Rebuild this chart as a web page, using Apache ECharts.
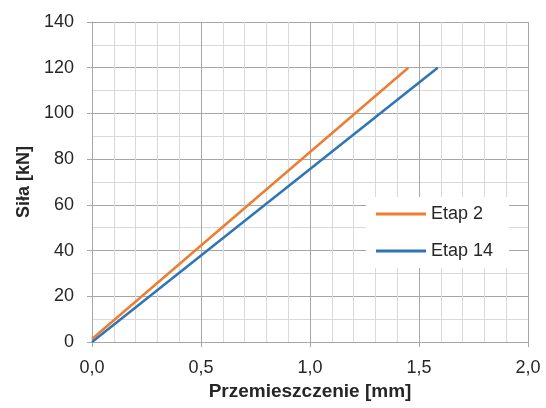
<!DOCTYPE html>
<html><head><meta charset="utf-8">
<script src="https://cdn.jsdelivr.net/npm/echarts@6/dist/echarts.min.js"></script>
<style>html,body{margin:0;padding:0;background:#fff}#c{width:546px;height:408px}</style>
</head><body><div id="c"></div>
<script>
const seriesNames = ["Etap 2", "Etap 14"];
const etap2X = [0, 1.451];
const etap2Y = [1.3, 120];
const etap14X = [0, 1.586];
const etap14Y = [0, 120];
const xTicks = [0, 0.5, 1.0, 1.5, 2.0];
const yTicks = [0, 20, 40, 60, 80, 100, 120, 140];

const toPairs = (xs, ys) => xs.map((x, i) => [x, ys[i]]);
const font = 'Liberation Sans, Arial, sans-serif';
const txt = '#262626';
const chart = echarts.init(document.getElementById('c'));
chart.setOption({
  animation: false,
  grid: {left: 92, right: 18, top: 22, bottom: 66, containLabel: false},
  legend: {
    orient: 'vertical', left: 366, top: 197,
    backgroundColor: '#fff', padding: [8, 16, 8, 10],
    itemWidth: 50, itemHeight: 3, itemGap: 19,
    icon: 'rect',
    textStyle: {fontFamily: font, fontSize: 18, color: txt},
    data: seriesNames
  },
  xAxis: {
    type: 'value', min: 0, max: 2, interval: 0.5,
    name: 'Przemieszczenie [mm]', nameLocation: 'middle', nameGap: 38,
    nameTextStyle: {fontFamily: font, fontSize: 19, fontWeight: 'bold', color: txt},
    axisLine: {show: true, lineStyle: {color: '#a6a6a6', width: 1}},
    axisTick: {show: true, length: 5, lineStyle: {color: '#a6a6a6'}},
    axisLabel: {fontFamily: font, fontSize: 18, color: txt, margin: 17,
      formatter: v => v.toFixed(1).replace('.', ',')},
    splitLine: {show: true, lineStyle: {color: '#a6a6a6', width: 1}},
    minorTick: {show: false, splitNumber: 5},
    minorSplitLine: {show: true, lineStyle: {color: '#d9d9d9', width: 1}}
  },
  yAxis: {
    type: 'value', min: 0, max: 140, interval: 20,
    name: 'Siła [kN]', nameLocation: 'middle', nameGap: 57,
    nameTextStyle: {fontFamily: font, fontSize: 18, fontWeight: 'bold', color: txt},
    axisLine: {show: true, lineStyle: {color: '#a6a6a6', width: 1}},
    axisTick: {show: true, length: 5, lineStyle: {color: '#a6a6a6'}},
    axisLabel: {fontFamily: font, fontSize: 18, color: txt, margin: 18},
    splitLine: {show: true, lineStyle: {color: '#a6a6a6', width: 1}},
    minorTick: {show: false, splitNumber: 2},
    minorSplitLine: {show: true, lineStyle: {color: '#d9d9d9', width: 1}}
  },
  series: [
    {name: seriesNames[0], type: 'line', data: toPairs(etap2X, etap2Y), showSymbol: false,
     lineStyle: {color: '#ED7D31', width: 2.5}, itemStyle: {color: '#ED7D31'}, z: 3},
    {name: seriesNames[1], type: 'line', data: toPairs(etap14X, etap14Y), showSymbol: false,
     lineStyle: {color: '#2E75B6', width: 2.5}, itemStyle: {color: '#2E75B6'}, z: 3}
  ]
});
</script></body></html>
